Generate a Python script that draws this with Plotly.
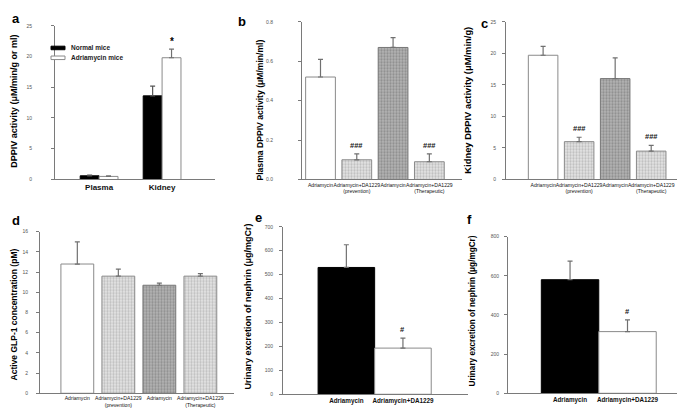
import plotly.graph_objects as go

W, H = 685, 408
FONT = "Liberation Sans, Arial, sans-serif"

# ---------------- data ----------------
# Panel a
a_groups = ["Plasma", "Kidney"]
a_series = ["Normal mice", "Adriamycin mice"]
a_normal = [0.6, 13.6]
a_normal_err = [0.1, 1.6]
a_adria = [0.5, 19.8]
a_adria_err = [0.1, 1.4]
a_sig = ["", "*"]

# Panels b, c, d
bcd_labels = ["Adriamycin", "Adriamycin+DA1229<br>(prevention)",
              "Adriamycin", "Adriamycin+DA1229<br>(Therapeutic)"]
b_vals = [0.52, 0.10, 0.67, 0.09]
b_err = [0.09, 0.03, 0.05, 0.04]
b_sig = ["", "###", "", "###"]
c_vals = [19.7, 6.0, 16.0, 4.5]
c_err = [1.4, 0.7, 3.3, 0.9]
c_sig = ["", "###", "", "###"]
d_vals = [12.8, 11.6, 10.7, 11.6]
d_err = [2.2, 0.7, 0.2, 0.25]
d_sig = ["", "", "", ""]

# Panels e, f
ef_labels = ["Adriamycin", "Adriamycin+DA1229"]
e_vals = [530, 193]
e_err = [95, 42]
e_sig = ["", "#"]
f_vals = [580, 315]
f_err = [95, 60]
f_sig = ["", "#"]

# ---------------- styles ----------------
AXC = "#7a7a7a"
ERRC = "#707070"
STY = {
    "black": dict(color="black", line=dict(color="black", width=1)),
    "white": dict(color="white", line=dict(color="#8a8a8a", width=1)),
    "light": dict(color="#e4e4e4", line=dict(color="#8a8a8a", width=1),
                  pattern=dict(shape=".", fgcolor="#9a9a9a", bgcolor="#e4e4e4",
                               size=3, solidity=0.45)),
    "dark": dict(color="#b0b0b0", line=dict(color="#777", width=1),
                 pattern=dict(shape=".", fgcolor="#6a6a6a", bgcolor="#b4b4b4",
                              size=3, solidity=0.45)),
}
bcd_styles = ["white", "light", "dark", "light"]
ef_styles = ["black", "white"]


def err(arr, color=ERRC):
    return dict(type="data", symmetric=False, array=arr, arrayminus=[0] * len(arr),
                color=color, thickness=1.2, width=2.5)


def xdom(p0, p1):
    return [p0 / W, p1 / W]


def ydom(top, bottom):
    return [1 - bottom / H, 1 - top / H]


fig = go.Figure()
annots = []
shapes = []

# ---- panel a ----
ax_a = list(range(len(a_groups)))
fig.add_trace(go.Bar(x=ax_a, y=a_normal, name=a_series[0], width=0.3, offset=-0.3,
                     marker=STY["black"], error_y=err(a_normal_err, "#555"),
                     xaxis="x", yaxis="y", showlegend=False))
fig.add_trace(go.Bar(x=ax_a, y=a_adria, name=a_series[1], width=0.3, offset=0,
                     marker=STY["white"], error_y=err(a_adria_err),
                     xaxis="x", yaxis="y", showlegend=False))
for i, s in enumerate(a_sig):
    if s:
        annots.append(dict(x=ax_a[i] + 0.15, y=a_adria[i] + a_adria_err[i], xref="x", yref="y",
                           text="<b>%s</b>" % s, showarrow=False, yanchor="bottom", yshift=0,
                           font=dict(size=10, color="black")))

# legend for panel a (drawn as small swatches + text, in paper coords)
leg_rows = [(a_series[0], "black", "black", 37.5), (a_series[1], "white", "#8a8a8a", 47.5)]
for name, fill, line, yc in leg_rows:
    shapes.append(dict(type="rect", xref="paper", yref="paper",
                       x0=43 / W, x1=57 / W, y0=1 - (yc + 1.8) / H, y1=1 - (yc - 1.8) / H,
                       fillcolor=fill, line=dict(color=line, width=1)))
    annots.append(dict(text="<b>%s</b>" % name, x=61 / W, y=1 - yc / H, xref="paper",
                       yref="paper", showarrow=False, xanchor="left", yanchor="middle",
                       font=dict(size=6.5, color="#222")))


def add_panel(k, vals, errs, sig, styles, width):
    xs = list(range(len(vals)))
    for i in xs:
        fig.add_trace(go.Bar(x=[xs[i]], y=[vals[i]], width=width,
                             marker=STY[styles[i]], error_y=err([errs[i]]),
                             xaxis="x%d" % k, yaxis="y%d" % k, showlegend=False))
        if sig[i]:
            annots.append(dict(x=xs[i], y=vals[i] + errs[i], xref="x%d" % k, yref="y%d" % k,
                               text="<b>%s</b>" % sig[i], showarrow=False, yanchor="bottom",
                               yshift=2, font=dict(size=7.5, color="#111")))


add_panel(2, b_vals, b_err, b_sig, bcd_styles, 0.82)
add_panel(3, c_vals, c_err, c_sig, bcd_styles, 0.82)
add_panel(4, d_vals, d_err, d_sig, bcd_styles, 0.8)
add_panel(5, e_vals, e_err, e_sig, ef_styles, 1.0)
add_panel(6, f_vals, f_err, f_sig, ef_styles, 1.0)


def yax(dom, rng, dtick, standoff, anchor, fmt=None):
    d = dict(domain=dom, range=rng, dtick=dtick, tick0=0, showline=True, linecolor=AXC,
             linewidth=1, ticks="outside", ticklen=3, tickcolor=AXC, showgrid=False,
             zeroline=False, tickfont=dict(size=5, color="#555"), anchor=anchor,
             ticklabelstandoff=standoff, fixedrange=True)
    if fmt:
        d["tickformat"] = fmt
    return d


def xax(dom, rng, anchor, labels, size, bold=False):
    txt = ["<b>%s</b>" % t if bold else t for t in labels]
    return dict(domain=dom, range=rng, anchor=anchor, showline=True, linecolor=AXC,
                linewidth=1, ticks="", showgrid=False, zeroline=False, tickangle=0,
                tickvals=list(range(len(labels))), ticktext=txt,
                tickfont=dict(size=size, color="#111"), fixedrange=True)


layout = dict(
    xaxis=xax(xdom(47, 207), [-0.70, 1.84], "y", a_groups, 8, True),
    yaxis=yax(ydom(15, 171), [0, 25], 5, 18, "x"),
    xaxis2=xax(xdom(294, 454), [-0.51, 3.90], "y2", bcd_labels, 5.1),
    yaxis2=yax(ydom(11, 171), [0, 0.8], 0.2, 24, "x2", ".1f"),
    xaxis3=xax(xdom(498, 685), [-1.03, 4.16], "y3", bcd_labels, 5.1),
    yaxis3=yax(ydom(11, 171), [0, 25], 5, 5, "x3"),
    xaxis4=xax(xdom(32, 226), [-0.91, 3.82], "y4", bcd_labels, 5.1),
    yaxis4=yax(ydom(224, 388), [0, 16], 2, 7, "x4"),
    xaxis5=xax(xdom(275, 460), [-1.12, 2.15], "y5", ef_labels, 6.3, True),
    yaxis5=yax(ydom(219, 389), [0, 700], 100, 5, "x5"),
    xaxis6=xax(xdom(500, 685), [-1.08, 2.14], "y6", ef_labels, 6.3, True),
    yaxis6=yax(ydom(229, 388), [0, 800], 200, 4, "x6"),
)

# axis titles (rotated) and panel letters
titles = [
    ("DPPIV activity (μM/min/g or ml)", 6, 92, 9),
    ("Plasma DPPIV activity (μM/min/ml)", 252, 100, 8.6),
    ("Kidney DPPIV activity (μM/min/g)", 460, 90, 9.4),
    ("Active GLP-1 concentration (pM)", 6, 308, 8.5),
    ("Urinary excretion of nephrin (μg/mgCr)", 240, 300, 9),
    ("Urinary excretion of nephrin (μg/mgCr)", 465, 304, 8.2),
]
for t, px, py, sz in titles:
    annots.append(dict(text="<b>%s</b>" % t, x=px / W, y=1 - py / H, xref="paper", yref="paper",
                       textangle=-90, showarrow=False, xanchor="center", yanchor="middle",
                       font=dict(size=sz, color="black")))

letters = [("a", 8, 8), ("b", 234, 11), ("c", 476, 13), ("d", 8, 213), ("e", 250, 210), ("f", 461, 212)]
for t, px, py in letters:
    annots.append(dict(text="<b>%s</b>" % t, x=px / W, y=1 - py / H, xref="paper", yref="paper",
                       showarrow=False, xanchor="center", yanchor="middle",
                       font=dict(size=13, color="black")))

fig.update_layout(
    **layout,
    annotations=annots,
    shapes=shapes,
    width=W, height=H,
    margin=dict(l=0, r=0, t=0, b=0),
    paper_bgcolor="white", plot_bgcolor="white",
    font=dict(family=FONT, color="black"),
    barmode="overlay",
    showlegend=False,
)

fig.write_html("out.html")
